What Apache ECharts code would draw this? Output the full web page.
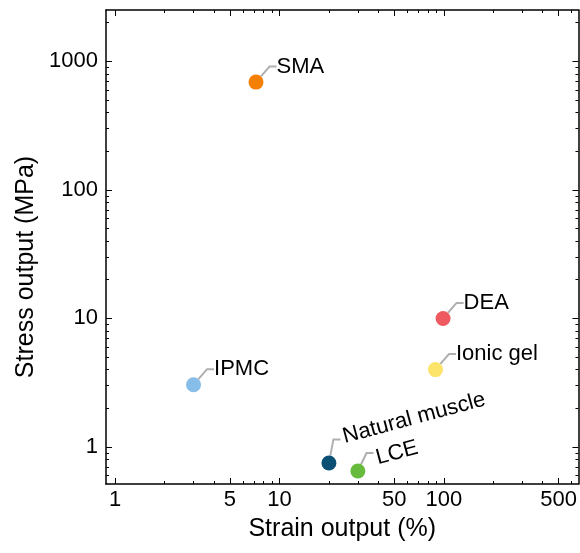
<!DOCTYPE html>
<html>
<head>
<meta charset="utf-8">
<script src="https://cdn.jsdelivr.net/npm/echarts@6/dist/echarts.min.js"></script>
<style>
  html, body { margin: 0; padding: 0; background: #fff; }
  #chart { width: 580px; height: 553px; }
</style>
</head>
<body>
<div id="chart"></div>
<script>
// actuator types
const names = ['SMA', 'DEA', 'Ionic gel', 'IPMC', 'Natural muscle', 'LCE'];
const strain = [7.2, 99, 89, 3, 20, 30];      // %
const stress = [690, 10, 4, 3.05, 0.75, 0.65]; // MPa
const palette = ['#F57F00', '#EE5A5F', '#FCE36A', '#86BEE9', '#0B4F75', '#66BB3C'];

// ticks
const xMajor = [1, 5, 10, 50, 100, 500];
const xMinor = [2, 3, 4, 6, 7, 8, 9, 20, 30, 40, 60, 70, 80, 90, 200, 300, 400, 600];
const yMajor = [1, 10, 100, 1000];
const yMinor = [0.6, 0.7, 0.8, 0.9, 2, 3, 4, 5, 6, 7, 8, 9, 20, 30, 40, 50, 60, 70, 80, 90,
  200, 300, 400, 500, 600, 700, 800, 900, 2000];

const FONT = 'Liberation Sans';
const X_MIN = 0.88, X_MAX = 660;
const Y_MIN = 0.515, Y_MAX = 2510;

function plain(v) {
  return String(+v.toPrecision(6));
}

function xAxisOf(position, ticks, len, withLine, withLabel) {
  return {
    type: 'log',
    logBase: 10,
    position: position,
    min: X_MIN,
    max: X_MAX,
    axisLine: { show: withLine, lineStyle: { color: '#000', width: 1.5 } },
    axisTick: { show: true, inside: true, length: len, customValues: ticks,
      lineStyle: { color: '#000', width: 1 } },
    axisLabel: withLabel
      ? { show: true, customValues: ticks, formatter: plain, color: '#000',
          fontSize: 22, fontFamily: FONT, margin: 5 }
      : { show: false },
    splitLine: { show: false },
    minorTick: { show: false },
  };
}

function yAxisOf(position, ticks, len, withLine, withLabel) {
  return {
    type: 'log',
    logBase: 10,
    position: position,
    min: Y_MIN,
    max: Y_MAX,
    axisLine: { show: withLine, lineStyle: { color: '#000', width: 1.5 } },
    axisTick: { show: true, inside: true, length: len, customValues: ticks,
      lineStyle: { color: '#000', width: 1 } },
    axisLabel: withLabel
      ? { show: true, customValues: ticks, formatter: plain, color: '#000',
          fontSize: 22, fontFamily: FONT, margin: 8 }
      : { show: false },
    splitLine: { show: false },
    minorTick: { show: false },
  };
}

const xAxes = [
  xAxisOf('bottom', xMajor, 6, true, true),
  xAxisOf('bottom', xMinor, 3, false, false),
  xAxisOf('top', xMajor, 6, true, false),
  xAxisOf('top', xMinor, 3, false, false),
];
Object.assign(xAxes[0], {
  name: 'Strain output (%)',
  nameLocation: 'middle',
  nameGap: 33,
  nameTextStyle: { color: '#000', fontSize: 25, fontFamily: FONT },
});

const yAxes = [
  yAxisOf('left', yMajor, 6, true, true),
  yAxisOf('left', yMinor, 3, false, false),
  yAxisOf('right', yMajor, 6, true, false),
  yAxisOf('right', yMinor, 3, false, false),
];
Object.assign(yAxes[0], {
  name: 'Stress output (MPa)',
  nameLocation: 'middle',
  nameGap: 61,
  // title sits a little below the middle of the axis in the original
  nameTextStyle: { color: '#000', fontSize: 25, fontFamily: FONT, padding: [0, 40, 0, 0] },
});

// tilted labels: two blank lines under the text keep the leader line
// anchored near the start of the first line
const labelPos = {
  'Natural muscle': { position: [19, -29], rotate: 15, verticalAlign: 'top',
    formatter: '{b}\n \n ', lineHeight: 22 },
  'LCE': { position: [26, -5], rotate: 15 },
};

const points = names.map((n, i) => {
  const item = {
    name: n,
    value: [strain[i], stress[i]],
    itemStyle: { color: palette[i], opacity: 1 },
  };
  if (labelPos[n]) item.label = labelPos[n];
  return item;
});

const chart = echarts.init(document.getElementById('chart'));
chart.setOption({
  animation: false,
  grid: { left: 106, top: 10, right: 0, bottom: 69, containLabel: false },
  xAxis: xAxes,
  yAxis: yAxes,
  series: [{
    type: 'scatter',
    xAxisIndex: 0,
    yAxisIndex: 0,
    symbolSize: 15,
    data: points,
    itemStyle: { opacity: 1 },
    label: {
      show: true,
      formatter: '{b}',
      position: [28, -8],
      align: 'left',
      verticalAlign: 'middle',
      color: '#000',
      fontSize: 22,
      fontFamily: FONT,
    },
    labelLine: {
      show: true,
      length2: 7,
      lineStyle: { color: '#b0b0b0', width: 2, opacity: 1 },
    },
    emphasis: { disabled: true },
  }],
});
</script>
</body>
</html>
